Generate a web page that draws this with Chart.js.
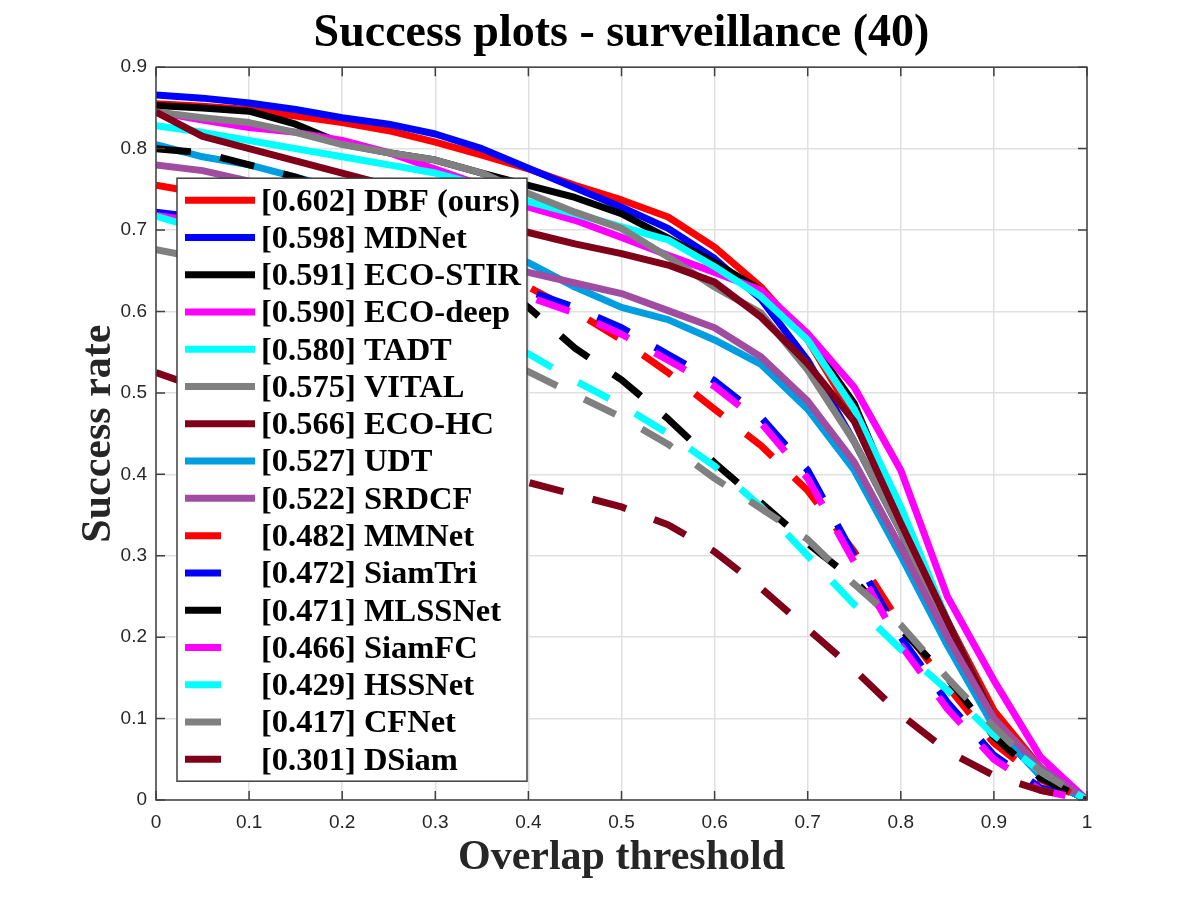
<!DOCTYPE html>
<html>
<head>
<meta charset="utf-8">
<title>Success plots - surveillance (40)</title>
<script src="https://cdn.jsdelivr.net/npm/chart.js@4.4.0/dist/chart.umd.min.js"></script>
<style>
  html, body { margin: 0; padding: 0; background: #fff; }
  #wrap { width: 1200px; height: 900px; }
</style>
</head>
<body>
<div id="wrap"><canvas id="successChart" width="1200" height="900"></canvas></div>
<script>
// overlap thresholds (x axis)
var thresholds = [0, 0.05, 0.1, 0.15, 0.2, 0.25, 0.3, 0.35, 0.4, 0.45, 0.5,
                  0.55, 0.6, 0.65, 0.7, 0.75, 0.8, 0.85, 0.9, 0.95, 1];

var xTickLabels = ['0', '0.1', '0.2', '0.3', '0.4', '0.5', '0.6', '0.7', '0.8', '0.9', '1'];
var yTickLabels = ['0', '0.1', '0.2', '0.3', '0.4', '0.5', '0.6', '0.7', '0.8', '0.9'];

var trackers = ['DBF (ours)', 'MDNet', 'ECO-STIR', 'ECO-deep', 'TADT', 'VITAL', 'ECO-HC', 'UDT',
                'SRDCF', 'MMNet', 'SiamTri', 'MLSSNet', 'SiamFC', 'HSSNet', 'CFNet', 'DSiam'];
var scores = ['0.602', '0.598', '0.591', '0.590', '0.580', '0.575', '0.566', '0.527',
              '0.522', '0.482', '0.472', '0.471', '0.466', '0.429', '0.417', '0.301'];

// success rate per threshold
var dbf     = [0.855, 0.852, 0.848, 0.840, 0.832, 0.822, 0.808, 0.792, 0.775, 0.755, 0.737, 0.716, 0.679, 0.630, 0.565, 0.470, 0.350, 0.220, 0.110, 0.040, 0];
var mdnet   = [0.866, 0.862, 0.856, 0.848, 0.838, 0.830, 0.818, 0.800, 0.776, 0.752, 0.728, 0.702, 0.665, 0.615, 0.540, 0.440, 0.330, 0.200, 0.090, 0.030, 0];
var ecoStir = [0.853, 0.850, 0.846, 0.830, 0.806, 0.795, 0.786, 0.770, 0.755, 0.740, 0.720, 0.690, 0.660, 0.626, 0.568, 0.487, 0.350, 0.220, 0.100, 0.030, 0];
var ecoDeep = [0.845, 0.835, 0.826, 0.820, 0.810, 0.795, 0.775, 0.755, 0.728, 0.712, 0.691, 0.669, 0.648, 0.626, 0.573, 0.507, 0.405, 0.250, 0.147, 0.053, 0];
var tadt    = [0.828, 0.820, 0.810, 0.800, 0.790, 0.780, 0.770, 0.755, 0.735, 0.720, 0.704, 0.688, 0.655, 0.618, 0.565, 0.480, 0.360, 0.220, 0.100, 0.030, 0];
var vital   = [0.845, 0.838, 0.832, 0.820, 0.805, 0.795, 0.786, 0.770, 0.745, 0.722, 0.702, 0.667, 0.630, 0.598, 0.528, 0.440, 0.330, 0.210, 0.100, 0.035, 0];
var ecoHc   = [0.845, 0.815, 0.800, 0.785, 0.770, 0.755, 0.740, 0.720, 0.697, 0.683, 0.671, 0.657, 0.636, 0.593, 0.536, 0.465, 0.340, 0.220, 0.100, 0.030, 0];
var udt     = [0.805, 0.790, 0.780, 0.765, 0.750, 0.730, 0.710, 0.685, 0.660, 0.630, 0.605, 0.590, 0.565, 0.535, 0.480, 0.405, 0.300, 0.190, 0.090, 0.030, 0];
var srdcf   = [0.780, 0.773, 0.760, 0.745, 0.730, 0.712, 0.695, 0.672, 0.648, 0.635, 0.622, 0.601, 0.580, 0.544, 0.490, 0.415, 0.310, 0.200, 0.100, 0.040, 0];
var mmnet   = [0.755, 0.745, 0.735, 0.720, 0.705, 0.690, 0.670, 0.650, 0.630, 0.600, 0.565, 0.525, 0.480, 0.435, 0.380, 0.305, 0.215, 0.140, 0.070, 0.025, 0];
var siamTri = [0.722, 0.715, 0.705, 0.695, 0.680, 0.670, 0.655, 0.640, 0.625, 0.605, 0.580, 0.547, 0.515, 0.470, 0.405, 0.300, 0.200, 0.120, 0.055, 0.015, 0];
var mlssNet = [0.800, 0.795, 0.780, 0.765, 0.745, 0.720, 0.690, 0.650, 0.605, 0.555, 0.516, 0.468, 0.414, 0.365, 0.315, 0.270, 0.210, 0.150, 0.078, 0.027, 0];
var siamFc  = [0.718, 0.710, 0.698, 0.685, 0.672, 0.660, 0.645, 0.632, 0.618, 0.598, 0.572, 0.540, 0.508, 0.463, 0.395, 0.292, 0.190, 0.112, 0.050, 0.012, 0];
var hssNet  = [0.717, 0.700, 0.685, 0.665, 0.645, 0.625, 0.600, 0.575, 0.548, 0.515, 0.485, 0.450, 0.410, 0.360, 0.300, 0.240, 0.185, 0.135, 0.080, 0.035, 0];
var cfNet   = [0.676, 0.665, 0.650, 0.635, 0.615, 0.595, 0.575, 0.550, 0.526, 0.498, 0.470, 0.437, 0.395, 0.358, 0.320, 0.265, 0.215, 0.150, 0.090, 0.035, 0];
var dSiam   = [0.525, 0.505, 0.485, 0.465, 0.448, 0.430, 0.415, 0.400, 0.390, 0.375, 0.360, 0.338, 0.305, 0.260, 0.210, 0.160, 0.105, 0.060, 0.030, 0.012, 0];

var series = [dbf, mdnet, ecoStir, ecoDeep, tadt, vital, ecoHc, udt,
              srdcf, mmnet, siamTri, mlssNet, siamFc, hssNet, cfNet, dSiam];
var colors = ['#ff0000', '#0000ff', '#000000', '#ff00ff', '#00ffff', '#808080', '#80001a', '#009ee0',
              '#a04ca0', '#ff0000', '#0000ff', '#000000', '#ff00ff', '#00ffff', '#808080', '#80001a'];
var dashed = [false, false, false, false, false, false, false, false,
              false, true, true, true, true, true, true, true];

var serif = '"Liberation Serif", "Times New Roman", serif';
var sans = '"Liberation Sans", Arial, sans-serif';

var datasets = series.map(function(vals, i) {
  return {
    label: '[' + scores[i] + '] ' + trackers[i],
    data: vals.map(function(v, j) { return { x: thresholds[j], y: v }; }),
    borderColor: colors[i],
    borderWidth: 7,
    borderDash: dashed[i] ? [35, 30] : [],
    isDashed: dashed[i],
    borderCapStyle: 'butt',
    borderJoinStyle: 'round',
    pointRadius: 0,
    tension: 0,
    fill: false,
    order: series.length - i   // later curves on top, like matlab
  };
});

// box round the axes with inward ticks on all four sides
var boxTicks = {
  id: 'boxTicks',
  afterDatasetsDraw: function(chart) {
    var ctx = chart.ctx, a = chart.chartArea;
    var xs = chart.scales.x, ys = chart.scales.y;
    var tl = 9;
    ctx.save();
    ctx.strokeStyle = '#404040';
    ctx.lineWidth = 1.5;
    ctx.strokeRect(a.left, a.top, a.right - a.left, a.bottom - a.top);
    ctx.beginPath();
    xs.ticks.forEach(function(t) {
      var px = xs.getPixelForValue(t.value);
      ctx.moveTo(px, a.bottom); ctx.lineTo(px, a.bottom - tl);
      ctx.moveTo(px, a.top); ctx.lineTo(px, a.top + tl);
    });
    ys.ticks.forEach(function(t) {
      var py = ys.getPixelForValue(t.value);
      ctx.moveTo(a.left, py); ctx.lineTo(a.left + tl, py);
      ctx.moveTo(a.right, py); ctx.lineTo(a.right - tl, py);
    });
    ctx.stroke();
    ctx.restore();
  }
};

// matlab-like legend box inside the plot
var boxLegend = {
  id: 'boxLegend',
  afterDraw: function(chart) {
    var ctx = chart.ctx, a = chart.chartArea;
    var left = a.left + 21, top = a.top + 111, w = 350, h = 603;
    var rowH = 37.27;
    ctx.save();
    ctx.fillStyle = '#fff';
    ctx.fillRect(left, top, w, h);
    ctx.strokeStyle = '#404040';
    ctx.lineWidth = 1.5;
    ctx.strokeRect(left, top, w, h);
    ctx.font = 'bold 32.5px ' + serif;
    ctx.textBaseline = 'middle';
    ctx.textAlign = 'left';
    chart.data.datasets.forEach(function(ds, i) {
      var y = top + 22 + i * rowH;
      ctx.beginPath();
      ctx.strokeStyle = ds.borderColor;
      ctx.lineWidth = ds.borderWidth;
      ctx.lineCap = 'butt';
      ctx.setLineDash(ds.isDashed ? [36, 40] : []);
      ctx.moveTo(left + 8, y);
      ctx.lineTo(left + 78, y);
      ctx.stroke();
      ctx.setLineDash([]);
      ctx.fillStyle = '#000';
      ctx.fillText(ds.label, left + 84, y + 2);
    });
    ctx.restore();
  }
};

var ctx = document.getElementById('successChart').getContext('2d');
var chart = new Chart(ctx, {
  type: 'line',
  data: { datasets: datasets },
  plugins: [boxTicks, boxLegend],
  options: {
    responsive: false,
    animation: false,
    devicePixelRatio: 1,
    layout: { padding: { left: 0, right: 113, top: 0, bottom: 0 } },
    plugins: {
      legend: { display: false },
      tooltip: { enabled: false },
      title: {
        display: true,
        fullSize: false,
        text: 'Success plots - surveillance (40)',
        color: '#000',
        font: { family: serif, size: 46, weight: 'bold' },
        padding: { top: 7, bottom: 5 }
      }
    },
    scales: {
      x: {
        type: 'linear',
        min: 0,
        max: 1,
        afterFit: function(s) { s.height = 100; },
        ticks: {
          stepSize: 0.1,
          padding: 11,
          color: '#262626',
          font: { family: sans, size: 19 },
          callback: function(v, i) { return xTickLabels[i]; }
        },
        grid: { color: '#e0e0e0', lineWidth: 1.5, drawTicks: false },
        border: { display: false },
        title: {
          display: true,
          text: 'Overlap threshold',
          color: '#262626',
          font: { family: serif, size: 42, weight: 'bold' },
          padding: { top: 0, bottom: 17 }
        }
      },
      y: {
        min: 0,
        max: 0.9,
        afterFit: function(s) { s.width = 156; },
        ticks: {
          stepSize: 0.1,
          padding: 9,
          color: '#262626',
          font: { family: sans, size: 19 },
          callback: function(v, i) { return yTickLabels[i]; }
        },
        grid: { color: '#e0e0e0', lineWidth: 1.5, drawTicks: false },
        border: { display: false },
        title: {
          display: true,
          text: 'Success rate',
          color: '#262626',
          font: { family: serif, size: 42, weight: 'bold' },
          padding: { top: 74, bottom: 0 }
        }
      }
    }
  }
});
</script>
</body>
</html>
